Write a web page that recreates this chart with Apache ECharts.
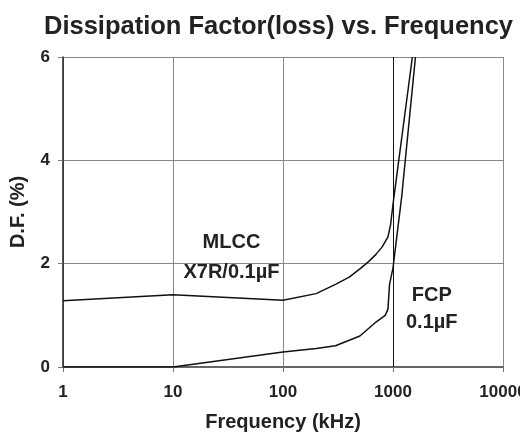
<!DOCTYPE html>
<html>
<head>
<meta charset="utf-8">
<script src="https://cdn.jsdelivr.net/npm/echarts@6/dist/echarts.min.js"></script>
<style>
html,body{margin:0;padding:0;background:#fff;}
#chart{width:520px;height:437px;}
</style>
</head>
<body>
<div id="chart"></div>
<script>
var titleText = 'Dissipation Factor(loss) vs. Frequency';
var xTickLabels = ['1', '10', '100', '1000', '10000'];
var yTickLabels = ['0', '2', '4', '6'];

var mlccFreq = [1, 10, 100, 200, 300, 400, 500, 600, 700, 800, 900, 950, 1000, 1500];
var mlccDF   = [1.28, 1.40, 1.29, 1.42, 1.60, 1.74, 1.90, 2.04, 2.18, 2.33, 2.52, 2.75, 3.15, 6.0];

var fcpFreq = [1, 10, 100, 200, 300, 500, 700, 850, 900, 930, 1000, 1200, 1600];
var fcpDF   = [0, 0, 0.29, 0.36, 0.41, 0.60, 0.87, 1.00, 1.12, 1.60, 1.92, 3.30, 6.0];

var markerFreq = 1000;

function pairs(xs, ys) { return xs.map(function (x, i) { return [x, ys[i]]; }); }

var FONT = '"Liberation Sans", Arial, Helvetica, sans-serif';
var TXT = '#222';

var chart = echarts.init(document.getElementById('chart'), null, {renderer: 'canvas'});
chart.setOption({
  animation: false,
  backgroundColor: '#ffffff',
  title: {
    text: titleText,
    left: 39, top: 9,
    textStyle: {fontFamily: FONT, fontSize: 25.5, fontWeight: 'bold', color: TXT}
  },
  grid: {left: 63, right: 17, top: 57, bottom: 70, containLabel: false, outerBoundsMode: 'none'},
  xAxis: {
    type: 'log', logBase: 10, min: 1, max: 10000,
    name: 'Frequency (kHz)', nameLocation: 'middle', nameGap: 45,
    nameTextStyle: {fontFamily: FONT, fontSize: 20, fontWeight: 'bold', color: TXT},
    axisLine: {show: true, lineStyle: {color: '#666', width: 2}},
    axisTick: {show: true, length: 5, lineStyle: {color: '#777', width: 1}},
    minorTick: {show: false},
    splitLine: {show: true, lineStyle: {color: '#888', width: 1}},
    axisLabel: {
      margin: 17, fontFamily: FONT, fontSize: 17, fontWeight: 'bold', color: TXT,
      hideOverlap: false, showMinLabel: true, showMaxLabel: true,
      formatter: function (v) {
        var i = Math.round(Math.log10(v));
        return xTickLabels[i] !== undefined ? xTickLabels[i] : '';
      }
    }
  },
  yAxis: {
    type: 'value', min: 0, max: 6, interval: 2,
    name: 'D.F. (%)', nameLocation: 'middle', nameGap: 35,
    nameTextStyle: {fontFamily: FONT, fontSize: 20, fontWeight: 'bold', color: TXT},
    axisLine: {show: true, lineStyle: {color: '#222', width: 1.5}},
    axisTick: {show: true, length: 5, lineStyle: {color: '#777', width: 1}},
    splitLine: {show: true, lineStyle: {color: '#888', width: 1}},
    axisLabel: {
      margin: 13, fontFamily: FONT, fontSize: 17, fontWeight: 'bold', color: TXT,
      formatter: function (v) {
        var i = Math.round(v / 2);
        return yTickLabels[i] !== undefined ? yTickLabels[i] : '';
      }
    }
  },
  series: [
    {
      name: 'MLCC X7R/0.1µF', type: 'line', data: pairs(mlccFreq, mlccDF),
      showSymbol: false, symbol: 'none', clip: true,
      lineStyle: {color: '#111', width: 1.5},
      markLine: {
        silent: true, symbol: ['none', 'none'], label: {show: false},
        lineStyle: {color: '#111', width: 1, type: 'solid'},
        data: [{xAxis: markerFreq}]
      }
    },
    {
      name: 'FCP 0.1µF', type: 'line', data: pairs(fcpFreq, fcpDF),
      showSymbol: false, symbol: 'none', clip: true,
      lineStyle: {color: '#111', width: 1.5}
    }
  ]
});

// annotation labels placed at data coordinates via the chart's scales
function place() {
  var p1 = chart.convertToPixel({gridIndex: 0}, [34, 2.11]);
  var p2 = chart.convertToPixel({gridIndex: 0}, [2250, 1.12]);
  chart.setOption({
    graphic: [
      {type: 'text', x: p1[0], y: p1[1], style: {text: 'MLCC\nX7R/0.1µF', fill: TXT, font: 'bold 20px ' + FONT, align: 'center', verticalAlign: 'middle', lineHeight: 30}},
      {type: 'text', x: p2[0], y: p2[1], style: {text: 'FCP\n0.1µF', fill: TXT, font: 'bold 20px ' + FONT, align: 'center', verticalAlign: 'middle', lineHeight: 27}}
    ]
  });
}
place();
</script>
</body>
</html>
